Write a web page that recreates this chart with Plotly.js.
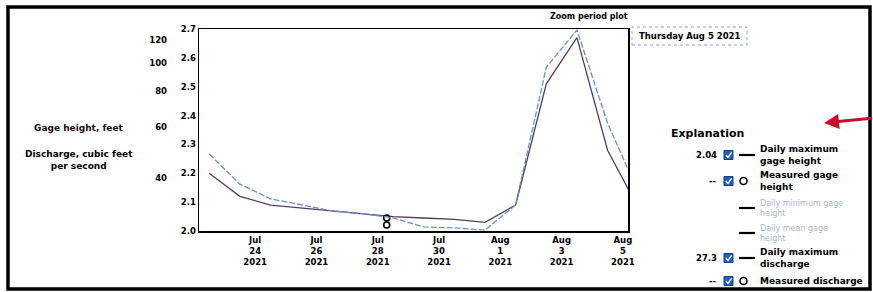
<!DOCTYPE html>
<html>
<head>
<meta charset="utf-8">
<script src="https://cdn.plot.ly/plotly-3.0.1.min.js"></script>
<style>
html,body{margin:0;padding:0;background:#fff;}
#chart{width:873px;height:292px;}
</style>
</head>
<body>
<div id="chart"></div>
<script>
// ---- data ----
var dates = ['2021-07-22 12:00','2021-07-23 12:00','2021-07-24 12:00','2021-07-25 12:00','2021-07-26 12:00',
             '2021-07-27 12:00','2021-07-28 12:00','2021-07-29 12:00','2021-07-30 12:00','2021-07-31 12:00',
             '2021-08-01 12:00','2021-08-02 12:00','2021-08-03 12:00','2021-08-04 12:00','2021-08-05 12:00'];
var gageMax = [2.20, 2.12, 2.09, 2.08, 2.07, 2.06, 2.05, 2.045, 2.04, 2.03, 2.09, 2.51, 2.67, 2.28, 2.08];
var dischargeMax = [48.4, 38.1, 33.9, 32.3, 30.8, 30.1, 29.1, 27.1, 26.9, 26.4, 32.3, 96.6, 130, 61.9, 35.8];
var measuredDate = ['2021-07-28 07:00'];
var measuredGage = [2.045];
var measuredDischarge = [27.5];
var tickDates = ['2021-07-24','2021-07-26','2021-07-28','2021-07-30','2021-08-01','2021-08-03','2021-08-05'];
var tickLabels = ['Jul<br>24<br>2021','Jul<br>26<br>2021','Jul<br>28<br>2021','Jul<br>30<br>2021',
                  'Aug<br>1<br>2021','Aug<br>3<br>2021','Aug<br>5<br>2021'];
var gageTicks = [2.0, 2.1, 2.2, 2.3, 2.4, 2.5, 2.6, 2.7];
var dischargeTicks = [40, 60, 80, 100, 120];
var legendRows = [
  {value:'2.04', checked:true, sym:'line', text:'Daily maximum<br>gage height', faded:false},
  {value:'--', checked:true, sym:'circle', text:'Measured gage<br>height', faded:false},
  {value:'', checked:false, sym:'line', text:'Daily minimum gage<br>height', faded:true},
  {value:'', checked:false, sym:'line', text:'Daily mean gage<br>height', faded:true},
  {value:'27.3', checked:true, sym:'line', text:'Daily maximum<br>discharge', faded:false},
  {value:'--', checked:true, sym:'circle', text:'Measured discharge', faded:false}
];

// ---- pixel helpers ----
var L = 140, R = 628, T = 29, B = 231, W = R - L, H = B - T;
function px(x){ return (x - L) / W; }
function py(y){ return (B - y) / H; }
var FONT = 'DejaVu Sans';

var traces = [
  {x: dates, y: gageMax, type:'scatter', mode:'lines', yaxis:'y',
   line:{color:'#4f4060', width:1.3}, hoverinfo:'skip'},
  {x: dates, y: dischargeMax, type:'scatter', mode:'lines', yaxis:'y2',
   line:{color:'#6b92c6', width:1.3, dash:'6px,2px'}, hoverinfo:'skip'},
  {x: measuredDate, y: measuredGage, type:'scatter', mode:'markers', yaxis:'y',
   marker:{symbol:'circle-open', color:'#000', size:6, line:{width:1.6, color:'#000'}}, hoverinfo:'skip'},
  {x: measuredDate, y: measuredDischarge, type:'scatter', mode:'markers', yaxis:'y2',
   marker:{symbol:'circle-open', color:'#000', size:6, line:{width:1.6, color:'#000'}}, hoverinfo:'skip'}
];

var shapes = [];
var annotations = [];

// outer frame
shapes.push({type:'rect', xref:'paper', yref:'paper', x0:px(8), x1:px(870), y0:py(289), y1:py(7),
             line:{color:'#000', width:3.5}, layer:'above'});
// date box
shapes.push({type:'rect', xref:'paper', yref:'paper', x0:px(632), x1:px(747), y0:py(45), y1:py(27),
             line:{color:'#8ea6c2', width:1, dash:'dot'}});
annotations.push({xref:'paper', yref:'paper', x:px(689.5), y:py(36), text:'Thursday Aug 5 2021', showarrow:false,
                  xanchor:'center', yanchor:'middle', font:{family:FONT, size:8.5, color:'#000', weight:'bold'}});
// title
annotations.push({xref:'paper', yref:'paper', x:px(630), y:py(17), text:'Zoom period plot', showarrow:false,
                  xanchor:'right', yanchor:'middle', font:{family:FONT, size:8, color:'#000', weight:'bold'}});
// axis labels
annotations.push({xref:'paper', yref:'paper', x:px(79), y:py(128), text:'Gage height, feet', showarrow:false,
                  xanchor:'center', yanchor:'middle', font:{family:FONT, size:9, color:'#1a0a12', weight:'bold'}});
annotations.push({xref:'paper', yref:'paper', x:px(79), y:py(160), text:'Discharge, cubic feet<br>per second', showarrow:false,
                  xanchor:'center', yanchor:'middle', font:{family:FONT, size:9, color:'#000', weight:'bold'}});
// red arrow
annotations.push({xref:'paper', yref:'paper', x:px(824), y:py(123), ax:50, ay:-5, text:'', showarrow:true,
                  arrowcolor:'#c8102e', arrowwidth:3, arrowhead:2, arrowsize:1});
// explanation
annotations.push({xref:'paper', yref:'paper', x:px(669), y:py(133), text:'Explanation', showarrow:false,
                  xanchor:'left', yanchor:'middle', font:{family:FONT, size:11, color:'#000', weight:'bold'}});
var rowY = [155, 181, 208, 233, 258, 281];
legendRows.forEach(function(r, i){
  var cy = rowY[i];
  if (r.value) {
    annotations.push({xref:'paper', yref:'paper', x:px(719), y:py(cy), text:r.value, showarrow:false,
                      xanchor:'right', yanchor:'middle', font:{family:FONT, size:8.5, color:'#000', weight:'bold'}});
  }
  if (r.checked) {
    shapes.push({type:'rect', xref:'paper', yref:'paper', x0:px(724), x1:px(733), y0:py(cy+4.5), y1:py(cy-4.5),
                 fillcolor:'#1f5fc4', line:{color:'#123f8e', width:1}});
    var p = 'M ' + px(725.8) + ',' + py(cy) + ' L ' + px(728) + ',' + py(cy+2.3) + ' L ' + px(731.6) + ',' + py(cy-2.6);
    shapes.push({type:'path', xref:'paper', yref:'paper', path:p, line:{color:'#fff', width:1.4}});
  }
  if (r.sym === 'line') {
    shapes.push({type:'line', xref:'paper', yref:'paper', x0:px(739), x1:px(755), y0:py(cy), y1:py(cy),
                 line:{color:'#000', width:2.2}});
  } else {
    shapes.push({type:'circle', xref:'paper', yref:'paper', x0:px(740), x1:px(747), y0:py(cy+3.5), y1:py(cy-3.5),
                 line:{color:'#000', width:1.6}});
  }
  annotations.push({xref:'paper', yref:'paper', x:px(758), y:py(cy), text:r.text, showarrow:false,
                    xanchor:'left', yanchor:'middle', align:'left',
                    font:{family:FONT, size:r.faded ? 8 : 9, color:r.faded ? '#aab6cc' : '#000', weight:r.faded ? 'normal' : 'bold'}});
});

var layout = {
  width:873, height:292,
  margin:{l:L, r:873-R, t:T, b:292-B, pad:0},
  paper_bgcolor:'#fff', plot_bgcolor:'#fff',
  showlegend:false,
  font:{family:FONT, color:'#000'},
  xaxis:{type:'date', domain:[px(199), 1], range:['2021-07-22 04:00','2021-08-05 04:00'],
         tickvals:tickDates, ticktext:tickLabels, showgrid:false, zeroline:false,
         showline:true, linecolor:'#000', linewidth:1.5, mirror:true, ticks:'',
         tickfont:{family:FONT, size:8.5, color:'#000', weight:'bold'}},
  yaxis:{range:[2.0, 2.7], tickvals:gageTicks, tickformat:'.1f', showgrid:false, zeroline:false,
         showline:true, linecolor:'#000', linewidth:1.5, mirror:true, ticks:'',
         tickfont:{family:FONT, size:8.5, color:'#000', weight:'bold'}},
  yaxis2:{type:'log', range:[1.4188, 2.1172], overlaying:'y', anchor:'free', side:'left', position:px(167),
          tickvals:dischargeTicks, ticktext:dischargeTicks.map(String), showgrid:false, zeroline:false,
          showline:false, ticks:'', tickfont:{family:FONT, size:8.5, color:'#000', weight:'bold'}},
  shapes:shapes,
  annotations:annotations
};

Plotly.newPlot('chart', traces, layout, {displayModeBar:false, staticPlot:true});
</script>
</body>
</html>
